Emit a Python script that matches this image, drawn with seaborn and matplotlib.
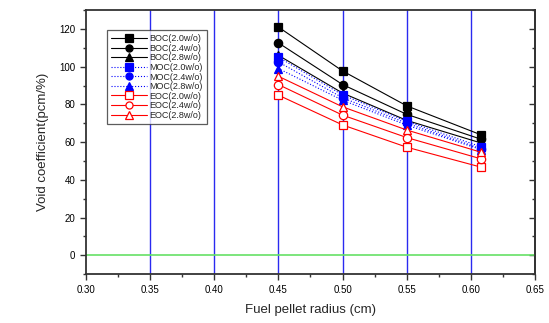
import matplotlib
matplotlib.use("Agg")
import matplotlib.pyplot as plt
import seaborn as sns
import pandas as pd
from matplotlib.ticker import MultipleLocator

sns.set_style("ticks")
plt.rcParams["font.family"] = ["Liberation Sans", "DejaVu Sans"]

radius = [0.45, 0.50, 0.55, 0.608]

boc_20 = [121.0, 97.7, 79.2, 63.8]
boc_24 = [112.6, 90.5, 74.7, 61.5]
boc_28 = [106.0, 86.0, 71.5, 59.5]
moc_20 = [105.0, 85.0, 71.0, 57.5]
moc_24 = [102.5, 83.5, 70.0, 56.5]
moc_28 = [99.0, 82.2, 69.0, 56.0]
eoc_20 = [84.9, 69.1, 57.3, 46.7]
eoc_24 = [90.5, 74.3, 62.4, 51.1]
eoc_28 = [94.9, 78.7, 66.4, 54.6]

series = [
    ("BOC(2.0w/o)", boc_20, "black", "-", "s", "black"),
    ("BOC(2.4w/o)", boc_24, "black", "-", "o", "black"),
    ("BOC(2.8w/o)", boc_28, "black", "-", "^", "black"),
    ("MOC(2.0w/o)", moc_20, "blue", ":", "s", "blue"),
    ("MOC(2.4w/o)", moc_24, "blue", ":", "o", "blue"),
    ("MOC(2.8w/o)", moc_28, "blue", ":", "^", "blue"),
    ("EOC(2.0w/o)", eoc_20, "red", "-", "s", "white"),
    ("EOC(2.4w/o)", eoc_24, "red", "-", "o", "white"),
    ("EOC(2.8w/o)", eoc_28, "red", "-", "^", "white"),
]

fig = plt.figure(figsize=(5.49, 3.23), dpi=100)
ax = fig.add_axes([0.156, 0.151, 0.819, 0.818])

# vertical reference lines and zero line
for xv in [0.35, 0.40, 0.45, 0.50, 0.55, 0.60]:
    ax.axvline(xv, color="#2a2af0", lw=1.0, zorder=1)
ax.axhline(0, color="#66e066", lw=1.2, zorder=1)

for label, vals, col, ls, mk, face in series:
    df = pd.DataFrame({"r": radius, "v": vals})
    sns.lineplot(data=df, x="r", y="v", ax=ax, color=col, linestyle=ls,
                 linewidth=0.8, marker=mk, markersize=6,
                 markerfacecolor=face, markeredgecolor=col,
                 markeredgewidth=0.9, label=label, zorder=3)

ax.set_xlim(0.30, 0.65)
ax.set_ylim(-10, 130)
ax.set_xticks([0.30, 0.35, 0.40, 0.45, 0.50, 0.55, 0.60, 0.65])
ax.set_xticklabels(["0.30", "0.35", "0.40", "0.45", "0.50", "0.55", "0.60", "0.65"])
ax.xaxis.set_minor_locator(MultipleLocator(0.025))
ax.set_yticks([0, 20, 40, 60, 80, 100, 120])
ax.yaxis.set_minor_locator(MultipleLocator(10))

ax.tick_params(axis="both", which="major", direction="out", length=4,
               width=1, labelsize=7, colors="#333333", labelcolor="black",
               top=False, right=False)
ax.tick_params(axis="both", which="minor", direction="out", length=2.5,
               width=1, colors="#333333", top=False, right=False)

# inward ticks on the right-hand frame
rax = ax.secondary_yaxis("right")
rax.set_yticks([0, 20, 40, 60, 80, 100, 120])
rax.yaxis.set_minor_locator(MultipleLocator(10))
rax.tick_params(which="major", direction="in", length=4, width=1,
                colors="#333333", labelright=False)
rax.tick_params(which="minor", direction="in", length=2.5, width=1,
                colors="#333333")
rax.spines["right"].set_color("#333333")
rax.spines["right"].set_linewidth(1.3)

for sp in ax.spines.values():
    sp.set_color("#333333")
    sp.set_linewidth(1.3)

ax.set_xlabel("Fuel pellet radius (cm)", fontsize=9.5, labelpad=7)
ax.set_ylabel("Void coefficient(pcm/%)", fontsize=9.5, labelpad=7)

leg = ax.legend(loc="upper left", bbox_to_anchor=(0.047, 0.925), fontsize=6.5,
                frameon=True, fancybox=False, edgecolor="#333333",
                handlelength=4.0, handletextpad=0.2, labelspacing=0.06,
                borderpad=0.5, borderaxespad=0, markerscale=0.85)
leg.get_frame().set_linewidth(0.9)

fig.savefig("out.png", dpi=100)
